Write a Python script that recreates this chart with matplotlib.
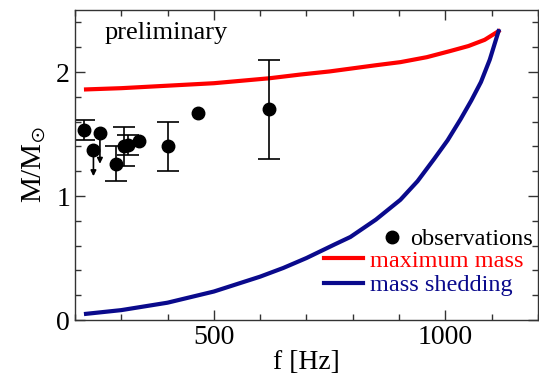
import matplotlib
matplotlib.use("Agg")
import matplotlib.pyplot as plt
from matplotlib.lines import Line2D
from matplotlib.ticker import MultipleLocator

plt.rcParams['font.family'] = ['Liberation Serif', 'DejaVu Serif']
plt.rcParams['mathtext.fontset'] = 'stix'

# observations with error bars (f in Hz, M in solar masses)
f_obs = [219, 289, 307, 314, 402, 620]
m_obs = [1.53, 1.26, 1.40, 1.41, 1.40, 1.70]
m_lo = [1.45, 1.12, 1.24, 1.33, 1.20, 1.30]
m_hi = [1.61, 1.40, 1.56, 1.49, 1.60, 2.10]

# observations without error bars
f_pt = [339, 466]
m_pt = [1.44, 1.67]

# upper limits
f_lim = [240, 254]
m_lim = [1.37, 1.51]
m_lim_end = [1.16, 1.26]

# maximum mass curve
f_max = [224, 300, 400, 500, 620, 687, 750, 800, 850, 903, 960, 1011, 1050, 1085, 1115]
m_max = [1.86, 1.87, 1.89, 1.91, 1.95, 1.98, 2.005, 2.03, 2.055, 2.08, 2.12,
         2.17, 2.21, 2.26, 2.33]

# mass shedding curve
f_shed = [224, 300, 400, 500, 600, 650, 700, 761, 795, 850, 903, 940, 976,
          1005, 1033, 1056, 1077, 1096, 1115]
m_shed = [0.05, 0.08, 0.14, 0.23, 0.35, 0.42, 0.50, 0.61, 0.67, 0.81, 0.97,
          1.12, 1.30, 1.45, 1.62, 1.77, 1.92, 2.10, 2.33]

blue = '#0a0a8c'

fig = plt.figure(figsize=(5.39, 3.87), dpi=100)
ax = fig.add_axes([0.139, 0.173, 0.859, 0.801])

ax.plot(f_max, m_max, color='red', lw=3)
ax.plot(f_shed, m_shed, color=blue, lw=3)

yerr = [[m - lo for m, lo in zip(m_obs, m_lo)], [hi - m for m, hi in zip(m_obs, m_hi)]]
ax.errorbar(f_obs, m_obs, yerr=yerr, fmt='o', color='black', ms=9,
            capsize=8, elinewidth=1.2, capthick=1.2)
ax.plot(f_pt, m_pt, 'o', color='black', ms=9)
ax.plot(f_lim, m_lim, 'o', color='black', ms=9)
for f, m, e in zip(f_lim, m_lim, m_lim_end):
    ax.annotate('', xy=(f, e), xytext=(f, m),
                arrowprops=dict(arrowstyle='-|>', color='black', lw=1.2,
                                mutation_scale=8, shrinkA=0, shrinkB=0))

ax.set_xlim(200, 1200)
ax.set_ylim(0, 2.5)
ax.xaxis.set_major_locator(MultipleLocator(500))
ax.xaxis.set_minor_locator(MultipleLocator(100))
ax.yaxis.set_major_locator(MultipleLocator(1))
ax.yaxis.set_minor_locator(MultipleLocator(0.2))
ax.tick_params(which='both', direction='in', top=True, right=True,
               labelsize=20, color='#333333')
ax.tick_params(which='major', length=7, width=1)
ax.tick_params(which='minor', length=4, width=1)
for s in ax.spines.values():
    s.set_color('#333333')
    s.set_linewidth(1)

ax.set_xlabel('f [Hz]', fontsize=20, labelpad=0)
ax.set_ylabel(r'M/M$_{\odot}$', fontsize=21, labelpad=6)

ax.text(0.063, 0.926, 'preliminary', transform=ax.transAxes,
        fontsize=19, va='center', ha='left')

# legend: observations row sits apart from the two curve rows
leg1 = ax.legend([Line2D([], [], marker='o', ls='none', color='black', ms=9)],
                 ['observations'], loc='lower right',
                 bbox_to_anchor=(0.99, 0.225), frameon=False, fontsize=17.5,
                 handlelength=0.8, handletextpad=0.35, borderpad=0,
                 borderaxespad=0)
ax.add_artist(leg1)
ax.legend([Line2D([], [], color='red', lw=3), Line2D([], [], color=blue, lw=3)],
          ['maximum mass', 'mass shedding'],
          loc='lower right', bbox_to_anchor=(1.0, 0.03), frameon=False,
          fontsize=17.5, labelcolor=['red', blue],
          handlelength=1.6, handletextpad=0.3, labelspacing=0.1,
          borderaxespad=0.2)

fig.savefig('out.png', dpi=100)
